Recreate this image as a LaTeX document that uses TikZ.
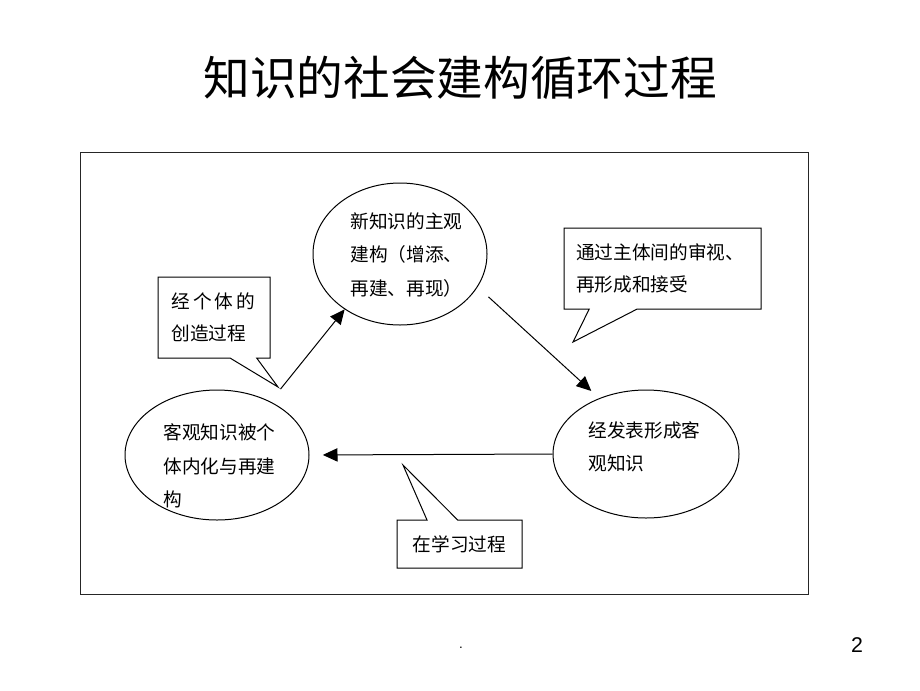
\documentclass[tikz,border=0pt]{standalone}
\usepackage{fontspec}
\setmainfont{Liberation Sans}
\newfontfamily\cjk{Noto Sans CJK SC}
\usetikzlibrary{shapes.geometric,shapes.callouts,arrows.meta}
\begin{document}
\begin{tikzpicture}[x=0.75pt,y=-0.75pt,line width=0.75pt,
        bubble/.style={draw,ellipse,inner sep=0pt},
        words/.style={font=\cjk\fontsize{14}{25}\selectfont,align=left,anchor=west,inner sep=0pt},
        note/.style={draw,rectangle callout,fill=white,inner sep=0pt,font=\cjk\fontsize{14}{24.5}\selectfont},
        flow/.style={-{Triangle[length=11pt,width=10pt]}}]
    \useasboundingbox (0,0) rectangle (920,690);
    \node[font=\cjk\fontsize{35}{40}\selectfont] (title) at (460,78) {知识的社会建构循环过程};
    \draw[black!85] (80,152) rectangle (808,594);
    \node[bubble,minimum width=130.5pt,minimum height=106.5pt] (topk) at (400,254) {};
    \node[bubble,minimum width=138pt,minimum height=97.5pt] (leftk) at (217,455) {};
    \node[bubble,minimum width=139.5pt,minimum height=96pt] (rightk) at (646,454) {};
    \node[words] (topk-t) at (350,255) {新知识的主观\\建构（增添、\\再建、再现）};
    \node[words] (leftk-t) at (163,466) {客观知识被个\\体内化与再建\\构};
    \node[words] (rightk-t) at (588,447) {经发表形成客\\观知识};
    \coordinate (tip1) at (278,387);
    \coordinate (tip2) at (573,342);
    \coordinate (tip3) at (403,465);
    \node[note,callout absolute pointer={(tip1)},callout pointer width=20pt,minimum width=84pt,minimum height=60.75pt,text width=64pt,align=left] (indiv) at (214,317.5) {经\,个\,体\,的\\创造过程};
    \node[note,callout absolute pointer={(tip2)},callout pointer width=36pt,minimum width=147.75pt,minimum height=60.75pt,text width=129.75pt,align=left] (review) at (662.5,268.5) {通过主体间的审视、\\再形成和接受};
    \node[note,callout absolute pointer={(tip3)},callout pointer width=23pt,minimum width=93.75pt,minimum height=36pt,align=center] (learn) at (459.5,544) {在学习过程};
    \draw[flow,shorten <=12pt] (leftk.45) -- (topk.225);
    \draw[flow,shorten <=11pt,shorten >=8pt] (topk.337) -- (rightk.130);
    \draw[flow,shorten >=10pt] (rightk.west) -- (leftk.east);
    \node[font=\fontsize{16}{18}\selectfont] (pagenum) at (857,645) {2};
    \node (dot) at (461,648) {.};
\end{tikzpicture}
\end{document}
